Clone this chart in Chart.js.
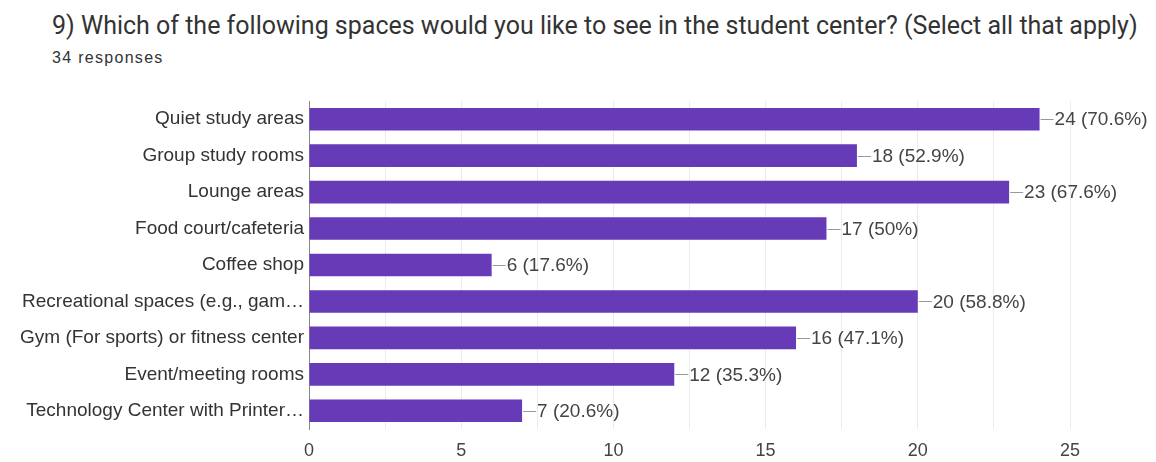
<!DOCTYPE html>
<html>
<head>
<meta charset="utf-8">
<script src="https://cdn.jsdelivr.net/npm/chart.js@4.4.1/dist/chart.umd.min.js"></script>
<style>
  body { margin: 0; background: #fff; width: 1156px; height: 462px; overflow: hidden; position: relative; }
  #title { position: absolute; left: 52px; top: 11px; font-family: Roboto, sans-serif; font-size: 25px; line-height: normal; color: #333; white-space: nowrap; }
  #sub { position: absolute; left: 52px; top: 49px; font-family: "Liberation Sans", Arial, sans-serif; font-size: 16px; letter-spacing: 1.3px; color: #333; }
  #wrap { position: absolute; left: 0; top: 0; width: 1156px; height: 462px; }
</style>
</head>
<body>
<div id="title">9) Which of the following spaces would you like to see in the student center? (Select all that apply)</div>
<div id="sub">34 responses</div>
<div id="wrap"><canvas id="chart"></canvas></div>
<script>
const categories = [
    'Quiet study areas',
    'Group study rooms',
    'Lounge areas',
    'Food court/cafeteria',
    'Coffee shop',
    'Recreational spaces (e.g., gam\u2026',
    'Gym (For sports) or fitness center',
    'Event/meeting rooms',
    'Technology Center with Printer\u2026'
];
const counts = [24, 18, 23, 17, 6, 20, 16, 12, 7];
const percents = ['70.6%', '52.9%', '67.6%', '50%', '17.6%', '58.8%', '47.1%', '35.3%', '20.6%'];
const xTicks = [0, 5, 10, 15, 20, 25];

const FONT = '"Liberation Sans", Arial, sans-serif';

// "—24 (70.6%)" labels at the end of each bar
const barLabels = {
    id: 'barLabels',
    afterDatasetsDraw(chart) {
        const ctx = chart.ctx;
        const meta = chart.getDatasetMeta(0);
        ctx.save();
        ctx.font = '19px ' + FONT;
        ctx.textBaseline = 'middle';
        ctx.textAlign = 'left';
        meta.data.forEach((bar, i) => {
            const y = Math.round(bar.y) + 0.5;
            ctx.strokeStyle = '#999';
            ctx.lineWidth = 1;
            ctx.beginPath();
            ctx.moveTo(bar.x + 1, y);
            ctx.lineTo(bar.x + 14, y);
            ctx.stroke();
            ctx.fillStyle = '#444';
            ctx.fillText(counts[i] + ' (' + percents[i] + ')', bar.x + 15, bar.y + 1);
        });
        ctx.restore();
    }
};

new Chart(document.getElementById('chart'), {
    type: 'bar',
    data: {
        labels: categories,
        datasets: [{
            data: counts,
            backgroundColor: '#673ab7',
            barPercentage: 0.62,
            categoryPercentage: 1.0
        }]
    },
    options: {
        indexAxis: 'y',
        responsive: true,
        maintainAspectRatio: false,
        animation: false,
        layout: { padding: { left: 0, right: 86, top: 101, bottom: 0 } },
        plugins: { legend: { display: false }, tooltip: { enabled: false } },
        scales: {
            x: {
                min: 0,
                max: 25,
                ticks: {
                    stepSize: 2.5,
                    color: '#444',
                    font: { family: FONT, size: 18 },
                    padding: 11,
                    maxRotation: 0,
                    autoSkip: false,
                    callback: v => xTicks.includes(v) ? String(v) : ''
                },
                grid: { color: '#ebebeb', drawTicks: false },
                border: { display: false },
                afterFit: s => { s.height = 33; }
            },
            y: {
                ticks: {
                    color: '#333',
                    font: { family: FONT, size: 19 },
                    padding: 5
                },
                grid: { display: false, drawTicks: false },
                border: { display: true, color: '#888', width: 1 },
                afterFit: s => { s.width = 309; }
            }
        }
    },
    plugins: [barLabels]
});
</script>
</body>
</html>
